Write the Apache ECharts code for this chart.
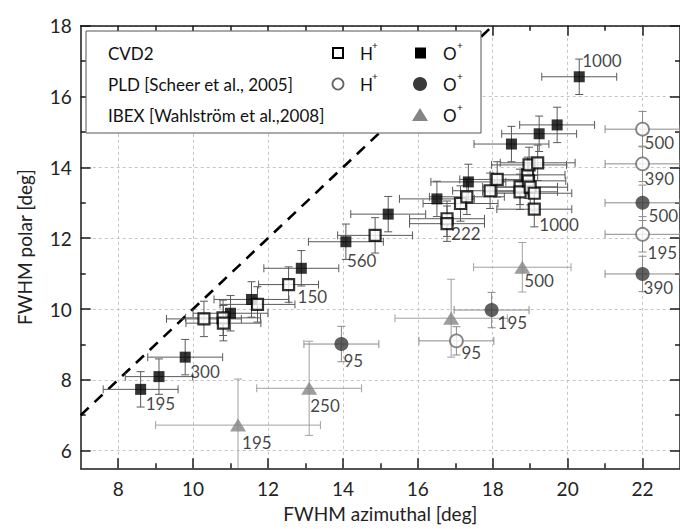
<!DOCTYPE html>
<html>
<head>
<meta charset="utf-8">
<script src="https://cdn.jsdelivr.net/npm/echarts@6/dist/echarts.min.js"></script>
<style>
  html, body { margin: 0; padding: 0; background: #ffffff; }
  #chart { width: 680px; height: 529px; }
</style>
</head>
<body>
<div id="chart"></div>
<script>
// Each row: [FWHM azimuthal, FWHM polar, azimuthal error, polar error, energy label]
const cvdOxygen = [
  [8.60, 7.73, 1.0, 0.5, '195'],
  [9.09, 8.09, 0.9, 0.5, ''],
  [9.79, 8.64, 1.0, 0.5, '300'],
  [11.00, 9.88, 1.0, 0.5, ''],
  [11.56, 10.27, 1.0, 0.5, ''],
  [12.89, 11.15, 1.0, 0.5, ''],
  [14.08, 11.90, 1.0, 0.5, '560'],
  [15.21, 12.68, 1.0, 0.5, ''],
  [16.51, 13.11, 1.0, 0.5, ''],
  [17.35, 13.59, 1.0, 0.5, ''],
  [18.50, 14.66, 1.0, 0.5, ''],
  [19.24, 14.95, 1.0, 0.5, ''],
  [19.72, 15.20, 1.0, 0.5, ''],
  [20.31, 16.56, 1.0, 0.5, '1000']
];
const cvdHydrogen = [
  [10.29, 9.72, 1.0, 0.5, ''],
  [10.80, 9.75, 1.0, 0.5, ''],
  [10.81, 9.60, 1.0, 0.5, ''],
  [11.72, 10.13, 1.0, 0.5, ''],
  [12.55, 10.69, 0.8, 0.5, '150'],
  [14.86, 12.08, 1.0, 0.5, ''],
  [16.78, 12.55, 1.0, 0.5, ''],
  [16.78, 12.41, 1.0, 0.5, '222'],
  [17.14, 12.98, 1.0, 0.5, ''],
  [17.31, 13.17, 1.0, 0.5, ''],
  [17.93, 13.34, 1.0, 0.5, ''],
  [18.12, 13.66, 1.0, 0.5, ''],
  [18.73, 13.45, 1.0, 0.5, ''],
  [18.73, 13.31, 1.0, 0.5, ''],
  [18.93, 13.79, 1.0, 0.5, ''],
  [18.95, 13.62, 1.0, 0.5, ''],
  [18.97, 14.07, 1.0, 0.5, ''],
  [19.00, 13.44, 1.0, 0.5, ''],
  [19.20, 14.13, 1.0, 0.5, ''],
  [19.11, 13.27, 1.0, 0.5, ''],
  [19.11, 12.82, 1.0, 0.5, '1000']
];
const pldHydrogen = [
  [17.03, 9.10, 1.0, 0.4, '95'],
  [22.00, 12.11, 1.0, 0.5, '195'],
  [22.00, 14.10, 1.0, 0.5, '390'],
  [22.00, 15.08, 1.0, 0.5, '500']
];
const pldOxygen = [
  [13.96, 9.01, 1.0, 0.5, '95'],
  [17.97, 9.97, 1.0, 0.5, '195'],
  [22.00, 10.99, 1.0, 0.5, '390'],
  [22.00, 13.00, 1.0, 0.5, '500']
];
const ibexOxygen = [
  [11.20, 6.72, 2.2, 1.3, '195'],
  [13.10, 7.76, 1.4, 1.33, '250'],
  [16.89, 9.74, 1.5, 1.1, ''],
  [18.79, 11.18, 1.3, 0.7, '500']
];
// reference line: polar = azimuthal
const unityLine = [[7, 7], [18, 18]];

const xTicks = [8, 10, 12, 14, 16, 18, 20, 22];
const xMinorTicks = [9, 11, 13, 15, 17, 19, 21];
const yTicks = [6, 8, 10, 12, 14, 16, 18];
const yMinorTicks = [7, 9, 11, 13, 15, 17];

const FONT = 'Lato, "Open Sans", sans-serif';
const AXIS_COLOR = '#1a1a1a';
const GRID_LINE = { show: true, lineStyle: { color: '#c4c4c4', type: [3, 3], width: 1 } };

// energy label offsets (text box top-left relative to the marker centre)
const labelShift = {
  cvdOxygen: { '195': [5, 6], '300': [5, 6], '560': [1, 10], '1000': [3, -25] },
  cvdHydrogen: { '150': [9, 3], '222': [4, 1], '1000': [5, 7] },
  pldHydrogen: { '95': [5, 3], '195': [5, 10], '390': [2, 6], '500': [2, 5] },
  pldOxygen: { '95': [2, 8], '195': [6, 4], '390': [1, 5], '500': [6, 4] },
  ibexOxygen: { '195': [4, 9], '250': [1, 9], '500': [2, 5] }
};

function markerData(rows, key) {
  return rows.map(r => {
    const item = { value: r.slice(0, 5) };
    if (r[4]) {
      item.label = { show: true, offset: labelShift[key][r[4]] || [4, 5] };
    }
    return item;
  });
}

function errorBars(rows, color) {
  return {
    type: 'custom',
    silent: true,
    clip: true,
    z: 2,
    data: rows.map(r => [r[0], r[1], r[2], r[3]]),
    encode: { x: 0, y: 1 },
    renderItem: function (params, api) {
      const x = api.value(0), y = api.value(1), dx = api.value(2), dy = api.value(3);
      const l = api.coord([x - dx, y]), r = api.coord([x + dx, y]);
      const t = api.coord([x, y + dy]), b = api.coord([x, y - dy]);
      const cap = 4;
      const style = { stroke: color, lineWidth: 1, fill: null };
      const seg = (x1, y1, x2, y2) => ({ type: 'line', shape: { x1, y1, x2, y2 }, style });
      return {
        type: 'group',
        children: [
          seg(l[0], l[1], r[0], r[1]),
          seg(t[0], t[1], b[0], b[1]),
          seg(l[0], l[1] - cap, l[0], l[1] + cap),
          seg(r[0], r[1] - cap, r[0], r[1] + cap),
          seg(t[0] - cap, t[1], t[0] + cap, t[1]),
          seg(b[0] - cap, b[1], b[0] + cap, b[1])
        ]
      };
    }
  };
}

const energyLabel = {
  show: false,
  position: 'inside',
  align: 'left',
  verticalAlign: 'top',
  formatter: p => p.value[4],
  fontFamily: FONT,
  fontSize: 17,
  color: '#111'
};

function markers(rows, key, symbol, size, itemStyle, z) {
  return {
    type: 'scatter',
    symbol: symbol,
    symbolSize: size,
    z: z,
    data: markerData(rows, key),
    encode: { x: 0, y: 1 },
    itemStyle: itemStyle,
    label: energyLabel,
    emphasis: { disabled: true }
  };
}

function xAxisPart(position, ticks, len, main) {
  return {
    type: 'value', min: 7, max: 23, splitNumber: 8, position: position,
    axisLine: { show: main, onZero: false, lineStyle: { color: AXIS_COLOR, width: 1.5 } },
    axisTick: { show: true, inside: true, length: len, customValues: ticks,
                lineStyle: { color: AXIS_COLOR, width: 1.5 } },
    axisLabel: main && position === 'bottom'
      ? { show: true, customValues: ticks, margin: 11, fontFamily: FONT, fontSize: 19, color: '#222' }
      : { show: false },
    splitLine: main && position === 'bottom' ? GRID_LINE : { show: false },
    name: main && position === 'bottom' ? 'FWHM azimuthal [deg]' : '',
    nameLocation: 'middle',
    nameGap: 36,
    nameTextStyle: { fontFamily: FONT, fontSize: 19, color: '#222' }
  };
}

function yAxisPart(position, ticks, len, main) {
  return {
    type: 'value', min: 5.5, max: 18, splitNumber: 6, position: position,
    axisLine: { show: main, onZero: false, lineStyle: { color: AXIS_COLOR, width: 1.5 } },
    axisTick: { show: true, inside: true, length: len, customValues: ticks,
                lineStyle: { color: AXIS_COLOR, width: 1.5 } },
    axisLabel: main && position === 'left'
      ? { show: true, customValues: ticks, margin: 9, fontFamily: FONT, fontSize: 19, color: '#222' }
      : { show: false },
    splitLine: main && position === 'left' ? GRID_LINE : { show: false },
    name: main && position === 'left' ? 'FWHM polar [deg]' : '',
    nameLocation: 'middle',
    nameGap: 47,
    nameTextStyle: { fontFamily: FONT, fontSize: 19, color: '#222' }
  };
}

// legend panel drawn over the plot area
function legendPanel() {
  const Z = 100;
  const rows = [53, 84, 115];
  const names = ['CVD2', 'PLD [Scheer et al., 2005]', 'IBEX [Wahlstr\u00f6m et al.,2008]'];
  const txt = (text, x, y, size) => ({
    type: 'text', x: x, y: y, z: Z + 1,
    style: { text: text, fontFamily: FONT, fontSize: size, fill: '#111',
             align: 'left', verticalAlign: 'middle' }
  });
  const els = [{
    type: 'rect', z: Z, shape: { x: 86, y: 31, width: 395, height: 102 },
    style: { fill: '#fff', stroke: '#555', lineWidth: 1 }
  }];
  names.forEach((n, i) => els.push(txt(n, 108, rows[i], 17)));
  // H+ column
  els.push({ type: 'rect', z: Z + 1, shape: { x: 333, y: rows[0] - 5, width: 10, height: 10 },
             style: { fill: '#fff', stroke: '#000', lineWidth: 2 } });
  els.push({ type: 'circle', z: Z + 1, shape: { cx: 338, cy: rows[1], r: 5.5 },
             style: { fill: '#fff', stroke: '#666', lineWidth: 1.8 } });
  [0, 1].forEach(i => {
    els.push(txt('H', 360, rows[i], 17));
    els.push(txt('+', 372, rows[i] - 8, 10));
  });
  // O+ column
  els.push({ type: 'rect', z: Z + 1, shape: { x: 415, y: rows[0] - 5.5, width: 11, height: 11 },
             style: { fill: '#000' } });
  els.push({ type: 'circle', z: Z + 1, shape: { cx: 420, cy: rows[1], r: 7 },
             style: { fill: '#3a3a3a' } });
  els.push({ type: 'polygon', z: Z + 1,
             shape: { points: [[412, rows[2] + 6], [428, rows[2] + 6], [420, rows[2] - 7]] },
             style: { fill: '#858585' } });
  [0, 1, 2].forEach(i => {
    els.push(txt('O', 443, rows[i], 17));
    els.push(txt('+', 457, rows[i] - 8, 10));
  });
  els.forEach(e => { e.silent = true; });
  return els;
}

const chart = echarts.init(document.getElementById('chart'), null, { renderer: 'svg' });
chart.setOption({
  animation: false,
  backgroundColor: '#ffffff',
  grid: { left: 80.7, right: -2.3, top: 25.8, bottom: 60.7, containLabel: false },
  xAxis: [
    xAxisPart('bottom', xTicks, 10, true),
    xAxisPart('bottom', xMinorTicks, 5, false),
    xAxisPart('top', xTicks, 10, true),
    xAxisPart('top', xMinorTicks, 5, false)
  ],
  yAxis: [
    yAxisPart('left', yTicks, 10, true),
    yAxisPart('left', yMinorTicks, 5, false),
    yAxisPart('right', yTicks, 10, true),
    yAxisPart('right', yMinorTicks, 5, false)
  ],
  series: [
    {
      type: 'line', data: unityLine, symbol: 'none', z: 1, silent: true,
      lineStyle: { color: '#000', width: 2.6, type: [11, 8] }
    },
    errorBars(ibexOxygen, '#a0a0a0'),
    errorBars(pldHydrogen, '#8a8a8a'),
    errorBars(pldOxygen, '#8a8a8a'),
    errorBars(cvdHydrogen, '#5a5a5a'),
    errorBars(cvdOxygen, '#5a5a5a'),
    markers(ibexOxygen, 'ibexOxygen', 'triangle', [16, 13], { color: '#858585' }, 3),
    markers(pldHydrogen, 'pldHydrogen', 'circle', 13, { color: '#fff', borderColor: '#666', borderWidth: 1.8 }, 3),
    markers(pldOxygen, 'pldOxygen', 'circle', 14, { color: '#3a3a3a' }, 3),
    markers(cvdOxygen, 'cvdOxygen', 'rect', 11, { color: '#000' }, 4),
    markers(cvdHydrogen, 'cvdHydrogen', 'rect', 11, { color: '#fff', borderColor: '#000', borderWidth: 2.2 }, 5)
  ],
  graphic: { elements: legendPanel() }
});
</script>
</body>
</html>
